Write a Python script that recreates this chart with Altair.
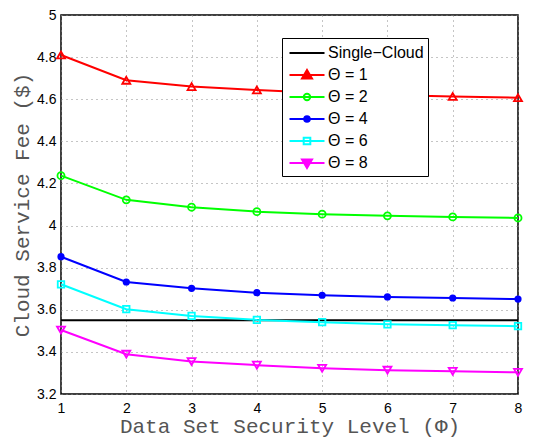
import altair as alt
import pandas as pd

# ---- data ----
phi = [1, 2, 3, 4, 5, 6, 7, 8]
single_cloud = [3.55, 3.55, 3.55, 3.55, 3.55, 3.55, 3.55, 3.55]
theta_1 = [4.81, 4.69, 4.66, 4.644, 4.63, 4.62, 4.613, 4.607]
theta_2 = [4.237, 4.122, 4.087, 4.066, 4.054, 4.046, 4.041, 4.036]
theta_4 = [3.852, 3.732, 3.702, 3.681, 3.669, 3.661, 3.656, 3.651]
theta_6 = [3.721, 3.603, 3.571, 3.552, 3.541, 3.531, 3.527, 3.522]
theta_8 = [3.504, 3.389, 3.354, 3.337, 3.322, 3.313, 3.308, 3.303]

series_names = ["Single\u2212Cloud", "Θ = 1", "Θ = 2", "Θ = 4", "Θ = 6", "Θ = 8"]
series_values = [single_cloud, theta_1, theta_2, theta_4, theta_6, theta_8]

y_ticks = [3.2, 3.4, 3.6, 3.8, 4.0, 4.2, 4.4, 4.6, 4.8, 5.0]

rows = []
for name, vals in zip(series_names, series_values):
    for xv, yv in zip(phi, vals):
        rows.append({"phi": xv, "fee": yv, "series": name})
df = pd.DataFrame(rows)

# ---- styles ----
colors = ["#000000", "#ff0000", "#00ff00", "#0000ff", "#00ffff", "#ff00ff"]
# legend colour scale
color_scale = alt.Scale(domain=series_names, range=colors)
# plot stroke/fill scale (same mapping, listed in reverse so it stays separate)
plot_scale = alt.Scale(domain=series_names[::-1], range=colors[::-1])

# legend symbols: a line segment plus a marker (unit = sqrt(size)/2 px)
LINE = "M-1.75,0H1.75"
legend_paths = [
    LINE,
    LINE + "M0,-0.5L0.5,0.35L-0.5,0.35ZM0,-0.25L0.25,0.2L-0.25,0.2Z",
    LINE + "M0.32,0A0.32,0.32,0,1,1,-0.32,0A0.32,0.32,0,1,1,0.32,0",
    LINE + "M0.28,0A0.28,0.28,0,1,1,-0.28,0A0.28,0.28,0,1,1,0.28,0"
           "M0.12,0A0.12,0.12,0,1,1,-0.12,0A0.12,0.12,0,1,1,0.12,0",
    LINE + "M-0.33,-0.33H0.33V0.33H-0.33Z",
    LINE + "M0,0.5L0.5,-0.35L-0.5,-0.35ZM0,0.25L0.25,-0.2L-0.25,-0.2Z",
]

markers = {
    "Θ = 1": dict(shape="triangle-up", size=64, filled=False, strokeWidth=1.8),
    "Θ = 2": dict(shape="circle", size=50, filled=False, strokeWidth=1.8),
    "Θ = 4": dict(shape="circle", size=52, filled=True),
    "Θ = 6": dict(shape="square", size=42, filled=False, strokeWidth=1.8),
    "Θ = 8": dict(shape="triangle-down", size=64, filled=False, strokeWidth=1.8),
}

X = alt.X(
    "phi:Q",
    scale=alt.Scale(domain=[1, 8], nice=False, zero=False),
    axis=alt.Axis(
        values=phi, format="d", title="Data Set Security Level (Φ)",
        labelPadding=7, labelFlush=False, labelOverlap=False,
        titleBaseline="alphabetic", titleY=38,
    ),
)
Y = alt.Y(
    "fee:Q",
    scale=alt.Scale(domain=[3.2, 5.0], nice=False, zero=False),
    axis=alt.Axis(
        values=y_ticks, format="~g", title="Cloud Service Fee ($)",
        labelPadding=5, labelFlush=False, labelOverlap=False,
        titleBaseline="alphabetic", titleX=-33,
    ),
)

legend = alt.Legend(
    title=None, orient="none", legendX=221, legendY=23,
    strokeColor="black", fillColor="white", padding=4, cornerRadius=0,
    symbolSize=400, symbolStrokeWidth=2, symbolOpacity=1,
    rowPadding=3, symbolOffset=10, labelOffset=10,
    labelFont="Liberation Sans", labelFontSize=16, labelColor="black",
)

base = alt.Chart(df)
stroke_enc = alt.Stroke("series:N", scale=plot_scale, legend=None)
fill_enc = alt.Fill("series:N", scale=plot_scale, legend=None)

single_layer = base.transform_filter(
    alt.datum.series == series_names[0]
).mark_line(strokeWidth=2).encode(x=X, y=Y, stroke=stroke_enc)

lines_layer = base.transform_filter(
    alt.datum.series != series_names[0]
).mark_line(strokeWidth=2).encode(x=X, y=Y, stroke=stroke_enc)

point_layers = []
for name, m in markers.items():
    enc = dict(x=X, y=Y)
    if m["filled"]:
        enc["fill"] = fill_enc
    else:
        enc["stroke"] = stroke_enc
    point_layers.append(
        base.transform_filter(alt.datum.series == name)
        .mark_point(opacity=1, **m)
        .encode(**enc)
    )

legend_layer = base.mark_point(opacity=0, filled=False).encode(
    x=X, y=Y,
    color=alt.Color("series:N", scale=color_scale, legend=legend),
    shape=alt.Shape("series:N", scale=alt.Scale(domain=series_names, range=legend_paths), legend=legend),
)

chart = alt.layer(single_layer, lines_layer, *point_layers, legend_layer).properties(
    width=457, height=379,
    padding={"left": 61, "top": 15, "right": 22, "bottom": 45},
    autosize=alt.AutoSizeParams(type="none"),
    background="white",
).configure_view(
    stroke="black", strokeWidth=1.5
).configure_axis(
    domain=False, ticks=False,
    labelFont="Liberation Sans", labelFontSize=14, labelColor="black",
    titleFont="Liberation Mono", titleFontSize=21, titleFontWeight="normal", titleColor="#555555",
    grid=True, gridColor="#8a8a8a", gridDash=[1, 4], gridWidth=1, gridOpacity=1,
)

chart.save("out.html", embed_options={"renderer": "svg", "actions": False})
